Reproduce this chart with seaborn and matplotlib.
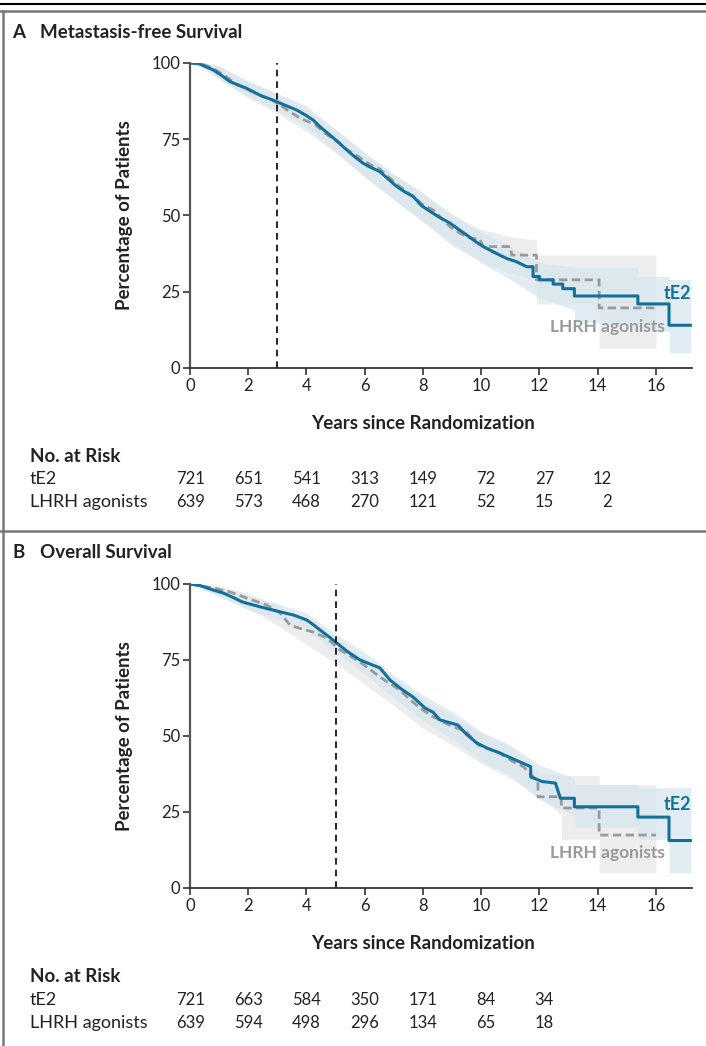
import matplotlib
matplotlib.use("Agg")
import matplotlib.pyplot as plt
import matplotlib.transforms as mtrans
import seaborn as sns
import pandas as pd
from matplotlib.lines import Line2D

# Metastasis-free survival (panel A)
# a repeated time = a visible vertical drop of the curve
mfs_te2_t = [0, 0.3, 0.8, 1.1, 1.37, 1.65, 1.94, 2.2, 2.5, 2.75, 2.98, 3.3, 3.66, 3.95, 4.23, 4.5,
             4.8, 5.1, 5.38, 5.65, 5.95, 6.2, 6.52, 6.8, 7.1, 7.4, 7.67, 7.95, 8.35, 8.6, 8.93, 9.2,
             9.5, 9.8, 10.07, 10.35, 10.64, 10.9, 11.2, 11.56, 11.78, 11.78, 12.0, 12.0, 12.47, 12.47,
             12.8, 12.8, 13.2, 13.2, 15.38, 15.38, 16.45, 16.45, 17.2]
mfs_te2_s = [100, 99.8, 97.7, 95.8, 93.9, 92.8, 91.7, 90.4, 89, 88.2, 87.3, 86, 84.6, 83, 81.3, 78.8,
             76.4, 74, 71.5, 69.3, 67.1, 65.8, 64.4, 62, 59.5, 57.6, 56.2, 53.2, 50.7, 49.2, 47.5, 45.6,
             43.6, 41.5, 39.8, 38.4, 37, 35.8, 34.9, 33.2, 33.2, 30, 30, 28.9, 28.9, 27.5,
             27.5, 26, 26, 23.6, 23.6, 21, 21, 14, 14]
mfs_lhrh_t = [0, 0.4, 0.8, 1.2, 1.6, 2.0, 2.4, 2.8, 3.1, 3.4, 3.7, 4.0, 4.3, 4.6, 5.0, 5.3, 5.6, 5.9,
              6.2, 6.52, 6.8, 7.1, 7.4, 7.7, 8.0, 8.35, 8.65, 8.93, 9.2, 9.5, 9.7, 9.95, 10.07, 11.0,
              11.05, 11.9, 11.9, 14.05, 14.05, 16.0]
mfs_lhrh_s = [100, 99.7, 98.2, 95.8, 93, 91.3, 89.5, 88, 86.2, 84.2, 82.4, 81, 79.8, 77.2, 74.6, 72.2,
              70.4, 68.5, 66.6, 65.2, 62.8, 60.3, 58, 56, 53.5, 51.8, 49, 46.3, 44.6, 43, 42.5, 42.3,
              39.8, 39.8, 37, 37, 28.9, 28.9, 19.7, 19.7]

mfs_te2_band_t = [0, 0.5, 1, 2, 3, 4, 5, 6, 7, 8, 9, 10, 11, 12, 13.2, 13.2, 15.38, 15.38, 16.45,
                  16.45, 17.2]
mfs_te2_band_lo = [100, 98, 95, 89, 84.5, 79, 71, 63, 55.5, 48, 41, 34.5, 29, 23, 19, 15, 15, 12, 12,
                   5, 5]
mfs_te2_band_hi = [100, 100, 99, 94, 90, 86, 78, 70.5, 63.5, 57, 50.5, 44.5, 40, 34.5, 33, 33, 33, 30,
                   30, 29, 29]
mfs_lhrh_band_t = [0, 0.5, 1, 2, 3, 4, 5, 6, 7, 8, 9, 10, 11, 11.9, 11.9, 14.05, 14.05, 16.0]
mfs_lhrh_band_lo = [100, 98, 94.5, 88.5, 83.5, 77.5, 70.5, 62.5, 55, 48, 40, 35, 31, 29, 21, 21, 6.5,
                    6.5]
mfs_lhrh_band_hi = [100, 100, 99, 94, 89.5, 84.5, 78.5, 70.5, 63.5, 57.5, 50, 45.5, 43, 42, 37, 37, 37,
                    37]

# Overall survival (panel B)
os_te2_t = [0, 0.34, 0.8, 1.15, 1.5, 1.77, 1.94, 2.4, 2.86, 3.2, 3.55, 4.0, 4.25, 4.46, 4.75, 5.04,
            5.4, 5.84, 6.2, 6.52, 6.87, 7.25, 7.66, 8.07, 8.35, 8.58, 9.2, 9.5, 9.85, 10.2, 10.64,
            11.2, 11.7, 11.7, 12.1, 12.55, 12.72, 13.2, 13.2, 15.38, 15.38, 16.45, 16.45, 17.2]
os_te2_s = [100, 99.5, 98, 97, 95.5, 94.2, 93.7, 92.5, 91.4, 90.6, 89.8, 88.2, 86.5, 84.9, 82.8, 80.6,
            77.8, 75, 73.6, 72.4, 68.4, 65.5, 62.8, 59.2, 57.8, 55.3, 53.6, 50.5, 47.7, 46, 44.4,
            42, 39.9, 36.5, 35, 34.5, 29.5, 29.5, 26.7, 26.7, 23.3, 23.3, 15.6, 15.6]
os_lhrh_t = [0, 0.8, 1.37, 1.94, 2.63, 3.1, 3.43, 3.8, 4.23, 4.7, 5.15, 5.5, 5.84, 6.2, 6.52, 6.87,
             7.21, 7.55, 7.9, 8.35, 8.9, 9.5, 9.9, 10.64, 11.1, 11.45, 11.85, 11.95, 11.95, 12.75,
             12.75, 14.05, 14.05, 16.0]
os_lhrh_s = [100, 98.7, 97.4, 95.4, 93.1, 90.4, 86.5, 85.3, 84.2, 82.2, 78.3, 76.3, 74.3, 71.8, 69.4,
             67.2, 65.1, 62, 59.2, 56.3, 53.6, 51.3, 47, 44.4, 41.5, 39.9, 36, 35, 30, 30,
             26.3, 26.3, 17.4, 17.4]

os_te2_band_t = [0, 1, 2, 3, 4, 5, 6, 7, 8, 9, 10, 11, 12, 13.2, 13.2, 15.38, 15.38, 16.45, 16.45,
                 17.2]
os_te2_band_lo = [100, 96, 91.5, 88.5, 85, 77.5, 70.5, 62.5, 55, 49, 42, 37, 29, 24, 20, 20, 16, 16,
                  5, 5]
os_te2_band_hi = [100, 99, 96, 93.5, 90.5, 83.5, 77.5, 70, 63.5, 58, 51.5, 47, 40.5, 36, 34, 34, 33,
                  33, 33, 33]
os_lhrh_band_t = [0, 1, 2, 3, 4, 5, 6, 7, 8, 9, 10, 11, 12, 12.75, 12.75, 14.05, 14.05, 16.0]
os_lhrh_band_lo = [100, 96, 92, 86.5, 80, 74, 67, 60, 52.5, 47, 41, 36, 30, 24, 16, 16, 5, 5]
os_lhrh_band_hi = [100, 99.5, 97, 93, 87.5, 82, 75.5, 69, 62, 56.5, 51, 46.5, 38, 37, 37, 37, 34, 34]

# numbers at risk
risk_years = [0, 2, 4, 6, 8, 10, 12, 14]
mfs_risk_te2 = [721, 651, 541, 313, 149, 72, 27, 12]
mfs_risk_lhrh = [639, 573, 468, 270, 121, 52, 15, 2]
os_risk_te2 = [721, 663, 584, 350, 171, 84, 34]
os_risk_lhrh = [639, 594, 498, 296, 134, 65, 18]

BLUE = "#13709b"
GRAY = "#9a9a9a"
BAND_BLUE = "#d5e6ef"
BAND_GRAY = "#e8e8e8"
TXT = "#222222"

sns.set_style("white")
plt.rcParams["font.family"] = ["Lato", "DejaVu Sans"]

fig = plt.figure(figsize=(7.06, 10.46), dpi=100)


def panel(rect, te2, lhrh, te2_band, lhrh_band, cutoff, lab_y):
    ax = fig.add_axes(rect)
    # confidence bands
    ax.fill_between(lhrh_band[0], lhrh_band[1], lhrh_band[2], color=BAND_GRAY, alpha=0.75, lw=0)
    ax.fill_between(te2_band[0], te2_band[1], te2_band[2], color=BAND_BLUE, alpha=0.7, lw=0)
    d1 = pd.DataFrame({"t": lhrh[0], "s": lhrh[1]})
    d2 = pd.DataFrame({"t": te2[0], "s": te2[1]})
    sns.lineplot(data=d1, x="t", y="s", ax=ax, color=GRAY, lw=2, estimator=None, sort=False,
                 linestyle=(0, (3, 1.6)))
    sns.lineplot(data=d2, x="t", y="s", ax=ax, color=BLUE, lw=2.2, estimator=None, sort=False)
    ax.axvline(cutoff, ymin=0, ymax=1.0, color="black", lw=1.2, ls=(0, (4, 3)))

    ax.set_xlim(0, 17.24)
    ax.set_ylim(0, 100)
    ax.set_xticks(range(0, 17, 2))
    ax.set_yticks([0, 25, 50, 75, 100])
    for s in ["top", "right"]:
        ax.spines[s].set_visible(False)
    ax.spines["left"].set_color("#555555")
    ax.spines["bottom"].set_color("#333333")
    ax.spines["left"].set_linewidth(1.6)
    ax.spines["bottom"].set_linewidth(1.3)
    ax.tick_params(axis="both", which="both", direction="out", length=5, width=1.2,
                   color="#333333", labelsize=12, labelcolor=TXT, pad=2, left=True, bottom=True)
    ax.set_xlabel("Years since Randomization", fontsize=13.5, fontweight="bold", color=TXT)
    ax.xaxis.set_label_coords(16 / 17.24 / 2, -0.155)
    ax.set_ylabel("Percentage of Patients", fontsize=13.5, fontweight="bold", color=TXT, labelpad=13)
    ax.text(17.2, lab_y[0], "tE2", color=BLUE, fontsize=13, fontweight="bold", ha="right", va="center")
    ax.text(16.3, lab_y[1], "LHRH agonists", color=GRAY, fontsize=12.5, fontweight="bold",
            ha="right", va="center")
    return ax


axA = panel([0.2691, 0.6482, 0.7111, 0.2916],
            (mfs_te2_t, mfs_te2_s), (mfs_lhrh_t, mfs_lhrh_s),
            (mfs_te2_band_t, mfs_te2_band_lo, mfs_te2_band_hi),
            (mfs_lhrh_band_t, mfs_lhrh_band_lo, mfs_lhrh_band_hi), 3, (24.5, 13.5))
axB = panel([0.2691, 0.1511, 0.7111, 0.2906],
            (os_te2_t, os_te2_s), (os_lhrh_t, os_lhrh_s),
            (os_te2_band_t, os_te2_band_lo, os_te2_band_hi),
            (os_lhrh_band_t, os_lhrh_band_lo, os_lhrh_band_hi), 5, (27.5, 11.5))


def px(x):
    return x / 706


def py(y):
    return 1 - y / 1046


# titles
fig.text(px(12), py(32), "A", fontsize=13.5, fontweight="bold", color=TXT, va="center")
fig.text(px(40), py(32), "Metastasis-free Survival", fontsize=13.5, fontweight="bold", color=TXT,
         va="center")
fig.text(px(12), py(553), "B", fontsize=13.5, fontweight="bold", color=TXT, va="center")
fig.text(px(40), py(553), "Overall Survival", fontsize=13.5, fontweight="bold", color=TXT, va="center")


def risk_row(ax, yrow, vals):
    tr = mtrans.blended_transform_factory(ax.transData, fig.transFigure)
    for i, v in enumerate(vals):
        ax.text(risk_years[i] + 0.5, py(yrow), str(v), fontsize=12, color=TXT,
                ha="right", va="center", transform=tr)


for ax, y0, te2, lhrh in [(axA, 456, mfs_risk_te2, mfs_risk_lhrh),
                          (axB, 977, os_risk_te2, os_risk_lhrh)]:
    fig.text(px(30), py(y0), "No. at Risk", fontsize=13.5, fontweight="bold", color=TXT, va="center")
    fig.text(px(30), py(y0 + 23), "tE2", fontsize=13, color=TXT, va="center")
    fig.text(px(30), py(y0 + 46), "LHRH agonists", fontsize=13, color=TXT, va="center")
    risk_row(ax, y0 + 23, te2)
    risk_row(ax, y0 + 46, lhrh)

# frame lines
fig.add_artist(Line2D([0, 1], [py(4), py(4)], color="black", lw=1.5))
fig.add_artist(Line2D([0, 1], [py(10.5), py(10.5)], color="#777777", lw=1.8))
fig.add_artist(Line2D([px(3), px(3)], [py(10.5), 0], color="#777777", lw=1.8))
fig.add_artist(Line2D([0, 1], [py(531), py(531)], color="#777777", lw=1.8))

fig.savefig("out.png", dpi=100)
